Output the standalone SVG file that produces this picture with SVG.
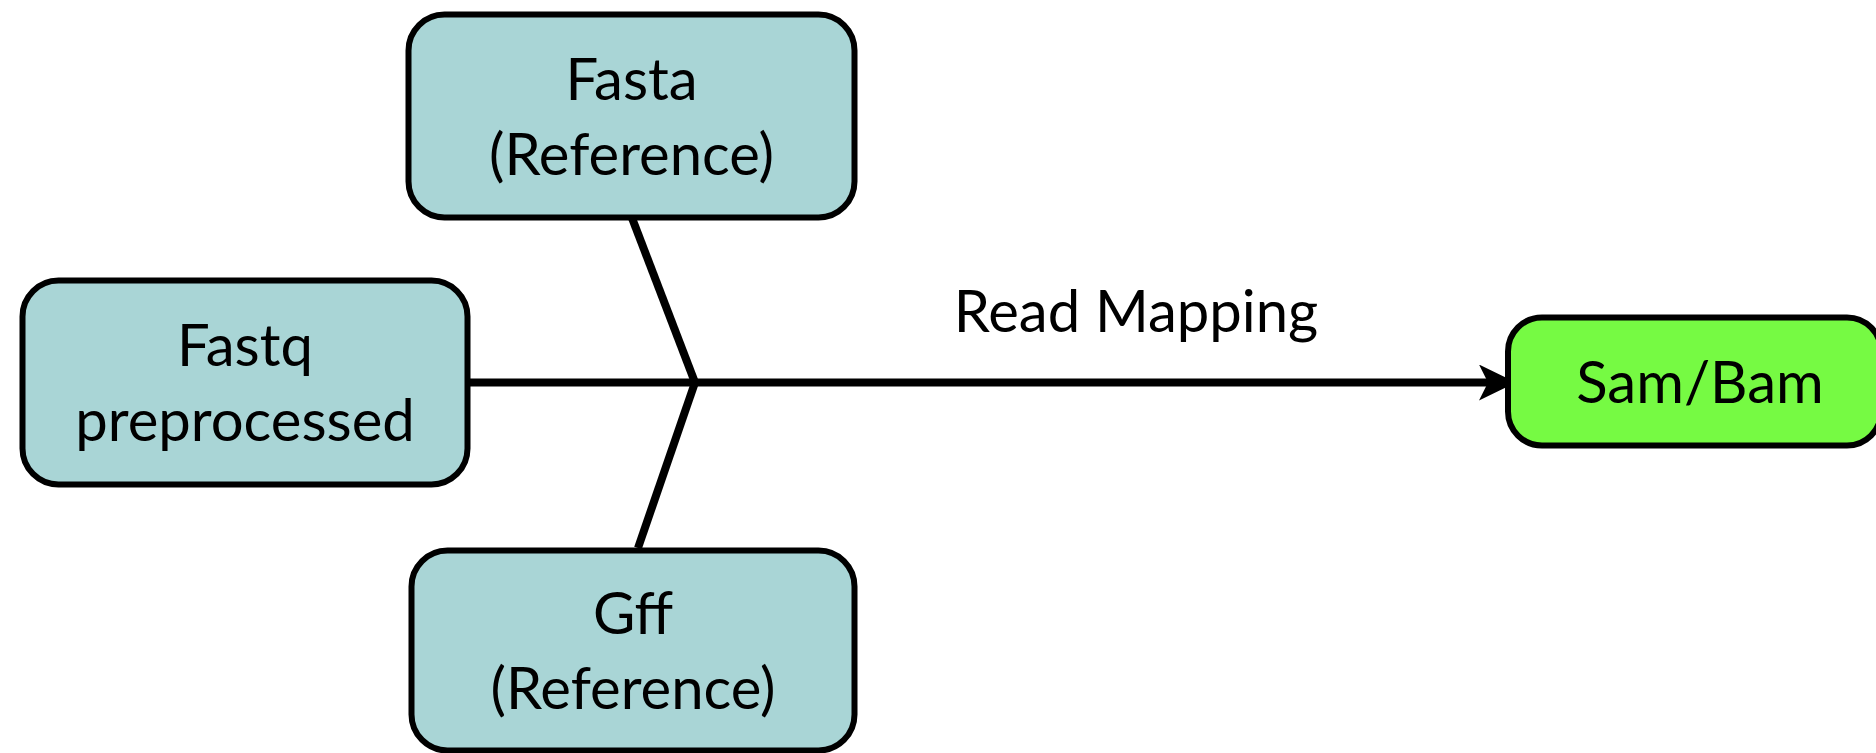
<svg xmlns="http://www.w3.org/2000/svg" width="1876" height="753" viewBox="0 0 1876 753">
  <style>
    .box { stroke: #000; stroke-width: 6; }
    .input { fill: #a9d5d6; }
    .output { fill: #76fa43; }
    .label { font-family: "Lato", "Liberation Sans", sans-serif; font-size: 58px; fill: #000; text-anchor: middle; }
    .wire { stroke: #000; stroke-width: 8; fill: none; }
  </style>
  <defs>
    <marker id="arrow" markerUnits="userSpaceOnUse" markerWidth="38" markerHeight="38" viewBox="0 0 38 38" refX="16" refY="18" orient="auto">
      <path d="M0,0 L37,18 L0,36 L9,18 Z" fill="#000"/>
    </marker>
  </defs>

  <rect width="1876" height="753" fill="#fff"/>

  <!-- connectors -->
  <g id="connectors">
    <line class="wire" x1="632" y1="218" x2="695" y2="382.5"/>
    <line class="wire" x1="695" y1="382.5" x2="638" y2="548"/>
    <line class="wire" x1="469" y1="382.5" x2="1495" y2="382.5" marker-end="url(#arrow)"/>
    <text class="label" x="1136" y="332">Read Mapping</text>
  </g>

  <g id="fasta">
    <rect class="box input" x="408.5" y="14.5" width="446" height="203" rx="36"/>
    <text class="label" x="631.5" y="100">Fasta</text>
    <text class="label" x="631.5" y="175" font-size="59">(Reference)</text>
  </g>

  <g id="fastq">
    <rect class="box input" x="22.5" y="280.5" width="445" height="204" rx="36"/>
    <text class="label" x="245" y="366">Fastq</text>
    <text class="label" x="245" y="441">preprocessed</text>
  </g>

  <g id="gff">
    <rect class="box input" x="411.5" y="550.5" width="443" height="200" rx="36"/>
    <text class="label" x="633" y="634">Gff</text>
    <text class="label" x="633" y="709" font-size="59">(Reference)</text>
  </g>

  <g id="sambam">
    <rect class="box output" x="1508" y="317.5" width="373" height="128" rx="34"/>
    <text class="label" x="1700" y="403" font-size="56">Sam/Bam</text>
  </g>
</svg>
